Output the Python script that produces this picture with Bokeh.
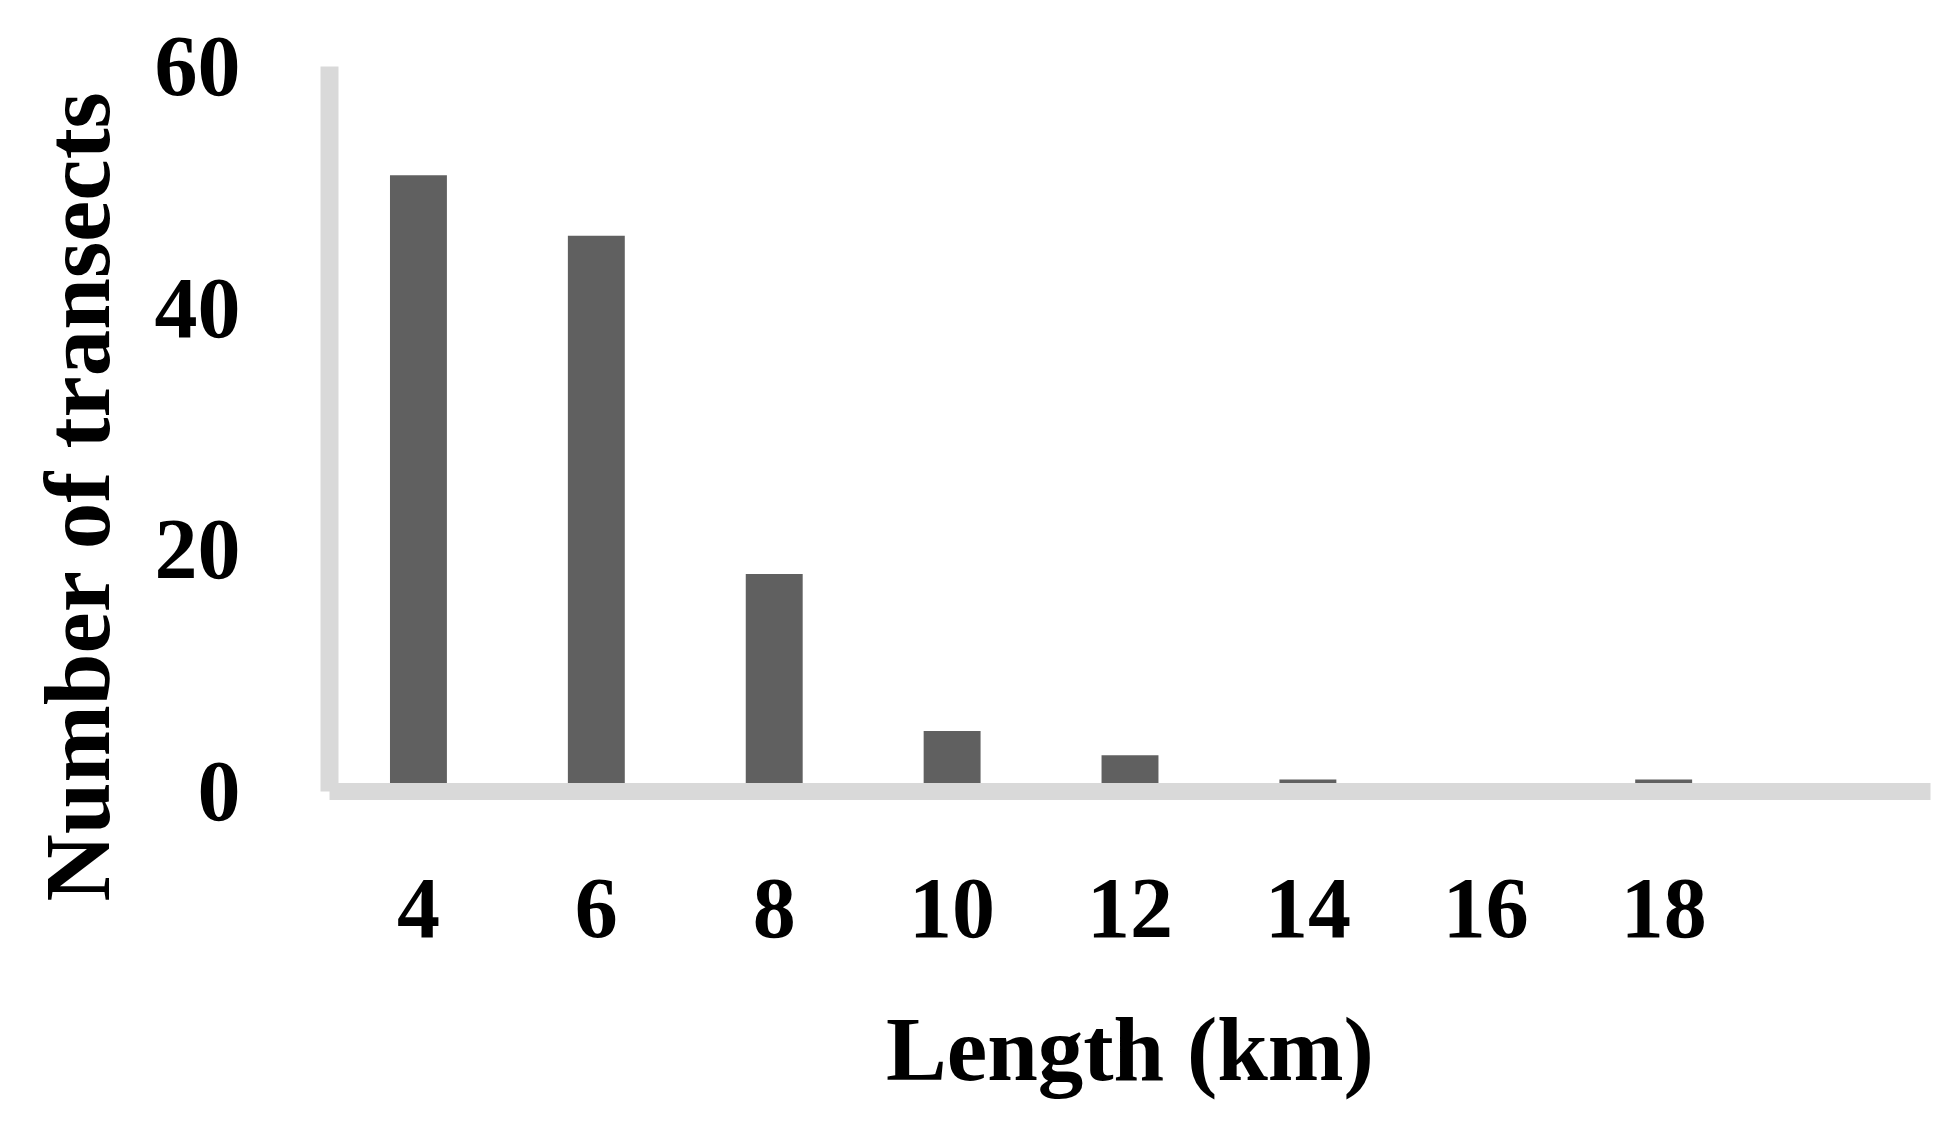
from bokeh.plotting import figure
from bokeh.models import Range1d, FixedTicker, Title
from bokeh.embed import file_html
from bokeh.resources import INLINE

# Data
lengths = [4, 6, 8, 10, 12, 14, 16, 18, 20]
counts = [51, 46, 18, 5, 3, 1, 0, 1, 0]
x_tick_labels = ["4", "6", "8", "10", "12", "14", "16", "18"]
y_ticks = [0, 20, 40, 60]
y_title = "Number of transects"
x_title = "Length (km)"

FONT = "Liberation Serif"
BAR = "#606060"
WALL = "#d9d9d9"

p = figure(width=1948, height=1113, output_backend="svg", toolbar_location=None,
           x_range=Range1d(lengths[0] - 1, lengths[-1] + 1),
           y_range=Range1d(0, 60),
           min_border_left=329, min_border_right=18,
           min_border_top=66, min_border_bottom=322)

p.vbar(x=lengths, top=counts, width=0.64, fill_color=BAR, line_color=None)

p.xgrid.grid_line_color = None
p.ygrid.grid_line_color = None
p.outline_line_color = None
p.background_fill_color = "white"
p.border_fill_color = "white"

xa = p.xaxis[0]
xa.ticker = FixedTicker(ticks=lengths[:len(x_tick_labels)])
xa.major_label_overrides = {l: t for l, t in zip(lengths, x_tick_labels)}
xa.axis_line_color = WALL
xa.axis_line_width = 17
xa.major_tick_line_color = None
xa.minor_tick_line_color = None
xa.major_label_standoff = 82
xa.major_label_text_font = FONT
xa.major_label_text_font_style = "bold"
xa.major_label_text_font_size = "86px"
xa.major_label_text_color = "black"
xa.axis_label = x_title
xa.axis_label_text_font = FONT
xa.axis_label_text_font_style = "bold"
xa.axis_label_text_font_size = "91px"
xa.axis_label_text_color = "black"
xa.axis_label_standoff = 59

ya = p.yaxis[0]
ya.ticker = FixedTicker(ticks=y_ticks)
ya.bounds = (0, 60)
ya.axis_line_color = WALL
ya.axis_line_width = 18
ya.major_tick_line_color = None
ya.minor_tick_line_color = None
ya.major_label_standoff = 83
ya.major_label_text_font = FONT
ya.major_label_text_font_style = "bold"
ya.major_label_text_font_size = "86px"
ya.major_label_text_color = "black"

ytitle = Title(text=y_title, align="left", offset=-110,
               text_font=FONT, text_font_style="bold", text_font_size="93px",
               text_color="black", standoff=46)
p.add_layout(ytitle, "left")

open("out.html", "w").write(file_html(p, INLINE))
